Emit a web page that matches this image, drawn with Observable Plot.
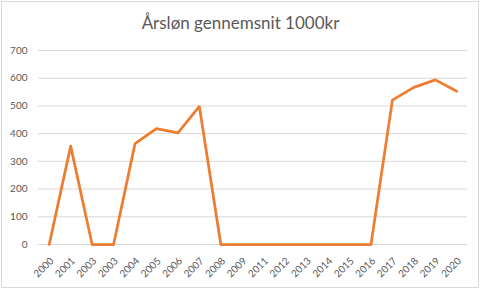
<!DOCTYPE html>
<html>
<head>
<meta charset="utf-8">
<script src="https://cdn.jsdelivr.net/npm/d3@7"></script>
<script src="https://cdn.jsdelivr.net/npm/@observablehq/plot@0.6"></script>
<style>
  html, body { margin: 0; padding: 0; background: #fff; }
  body { width: 481px; height: 289px; position: relative; overflow: hidden; font-family: Lato, "Open Sans", sans-serif; }
  #frame { position: absolute; left: 1px; top: 1px; width: 478px; height: 287px; box-sizing: border-box; border: 1px solid #d9d9d9; }
  #title { position: absolute; left: 0; top: 12px; width: 481px; text-align: center; font-size: 17px; color: #595959; line-height: 22px; }
  #chart { position: absolute; left: 0; top: 36px; }
  #chart svg { overflow: visible; }
</style>
</head>
<body>
<div id="frame"></div>
<div id="title">Årsløn gennemsnit 1000kr</div>
<div id="chart"></div>
<script>
const yearLabels = ["2000","2001","2003","2003","2004","2005","2006","2007","2008","2009","2011","2012","2013","2014","2015","2016","2017","2018","2019","2020"];
const salaries = [0,355,0,0,364,418,403,498,0,0,0,0,0,0,0,0,521,567,594,553];
const yTicks = [0,100,200,300,400,500,600,700];

const data = yearLabels.map((label, i) => ({i, label, value: salaries[i]}));

const plot = Plot.plot({
  width: 481,
  height: 250,
  marginTop: 14,
  marginBottom: 42,
  marginLeft: 38,
  marginRight: 14,
  style: {fontFamily: "Lato, sans-serif", fontSize: "10px", color: "#595959", background: "transparent"},
  x: {type: "point", domain: d3.range(yearLabels.length), padding: 0.5, round: false, axis: null},
  y: {domain: [0, 700], axis: null},
  marks: [
    Plot.gridY(yTicks, {stroke: "#d9d9d9", strokeOpacity: 1, strokeWidth: 1}),
    Plot.axisY(yTicks, {tickSize: 0, tickPadding: 11, fill: "#595959", fontSize: 10, label: null}),
    Plot.text(data, {x: "i", text: "label", frameAnchor: "bottom", rotate: -45, textAnchor: "end", lineAnchor: "top",
      dx: 0, dy: 12, fill: "#595959", fontSize: 10}),
    Plot.line(data, {x: "i", y: "value", stroke: "#ED7D31", strokeWidth: 2.75, strokeLinejoin: "round", strokeLinecap: "round"})
  ]
});
document.getElementById("chart").appendChild(plot);
</script>
</body>
</html>
